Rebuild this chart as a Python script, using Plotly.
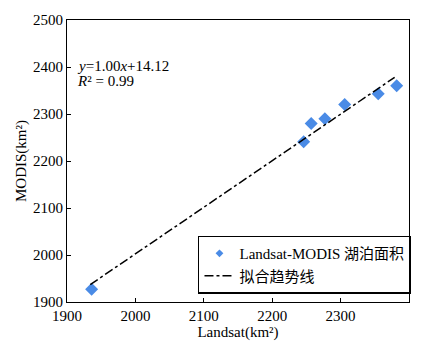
import plotly.graph_objects as go

landsat = [1936, 2246, 2257, 2277, 2306, 2355, 2382]
modis = [1927, 2241, 2280, 2290, 2320, 2343, 2360]
trend_x = [1934, 2379]
trend_y = [1937, 2378]
x_ticks = [1900, 2000, 2100, 2200, 2300, 2400]
y_ticks = [1900, 2000, 2100, 2200, 2300, 2400, 2500]

serif = "Liberation Serif, Times New Roman, Noto Sans CJK SC, serif"
blue = "#4A8BE6"

fig = go.Figure()
fig.add_trace(go.Scatter(
    x=landsat, y=modis, mode="markers", showlegend=False,
    marker=dict(symbol="diamond", size=10, color=blue),
))
fig.add_trace(go.Scatter(
    x=[None], y=[None], mode="markers", name="Landsat-MODIS 湖泊面积",
    marker=dict(symbol="diamond", size=6, color=blue),
))
fig.add_trace(go.Scatter(
    x=trend_x, y=trend_y, mode="lines", name="拟合趋势线",
    line=dict(color="black", width=1.5, dash="dashdot"),
))

fig.add_annotation(x=1911, y=2402, xref="x", yref="y", xanchor="left", yanchor="middle",
                   text="<i>y</i>=1.00<i>x</i>+14.12", showarrow=False,
                   font=dict(family=serif, size=15, color="black"))
fig.add_annotation(x=1911, y=2371, xref="x", yref="y", xanchor="left", yanchor="middle",
                   text="<i>R</i>² = 0.99", showarrow=False,
                   font=dict(family=serif, size=15, color="black"))

axis_common = dict(showline=True, linecolor="black", linewidth=1.2, mirror=True,
                   ticks="inside", ticklen=4, tickcolor="black", showgrid=False,
                   zeroline=False,
                   tickfont=dict(family=serif, size=15, color="black"))

fig.update_layout(
    width=423, height=352,
    margin=dict(l=67, r=12, t=16, b=50),
    paper_bgcolor="white", plot_bgcolor="white",
    showlegend=True,
    legend=dict(x=0.383, y=0.03, xanchor="left", yanchor="bottom",
                bordercolor="black", borderwidth=1.5, bgcolor="white",
                font=dict(family=serif, size=15, color="black"),
                tracegroupgap=2),
    xaxis=dict(range=[1900, 2400], tickvals=x_ticks,
               title=dict(text="Landsat(km²)", standoff=2,
                          font=dict(family=serif, size=15, color="black")),
               **axis_common),
    yaxis=dict(range=[1900, 2500], tickvals=y_ticks,
               title=dict(text="MODIS(km²)", standoff=2,
                          font=dict(family=serif, size=15, color="black")),
               **axis_common),
)

fig.write_html("out.html")
